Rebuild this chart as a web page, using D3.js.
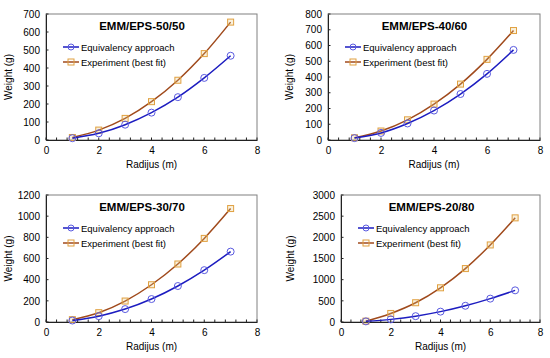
<!DOCTYPE html>
<html>
<head>
<meta charset="utf-8">
<script src="https://cdn.jsdelivr.net/npm/d3@7"></script>
<style>
  body { margin: 0; background: #fff; }
  text { font-family: "Liberation Sans", Arial, sans-serif; fill: #000; }
</style>
</head>
<body>
<script>
// Data
let radius = [1, 2, 3, 4, 5, 6, 7];
let titles = ['EMM/EPS-50/50', 'EMM/EPS-40/60', 'EMM/EPS-30/70', 'EMM/EPS-20/80'];
let equivalency = [
  [10, 37, 85, 152, 238, 345, 468],
  [12, 45, 105, 187, 292, 420, 572],
  [14, 55, 122, 217, 340, 490, 665],
  [15, 62, 138, 245, 383, 552, 748]
];
let experiment = [
  [14, 55, 120, 213, 332, 480, 655],
  [14, 57, 128, 228, 355, 512, 695],
  [22, 88, 198, 352, 548, 790, 1072],
  [20, 202, 455, 808, 1262, 1820, 2460]
];
let yMax = [700, 800, 1200, 3000];
let yStep = [100, 100, 200, 500];
let xTicks = [0, 2, 4, 6, 8];
let seriesNames = ['Equivalency approach', 'Experiment (best fit)'];

let width = 550, height = 358;

// panel boxes
let panels = [
  { left: 46, right: 257, top: 14, bottom: 140, yTitle: 34 },
  { left: 328, right: 540, top: 14, bottom: 140, yTitle: 35 },
  { left: 46, right: 257, top: 195, bottom: 322, yTitle: 34 },
  { left: 341, right: 540, top: 195, bottom: 322, yTitle: 47 }
];

let blueLine = '#1c1cc0', blueMark = '#5a5ae0';
let brownLine = '#a04a1c', orangeMark = '#e0a040';

let svg = d3.select('body')
  .append('svg')
  .attr('width', width)
  .attr('height', height);

panels.forEach((p, i) => {
  let g = svg.append('g');

  let x = d3.scaleLinear().domain([0, 8]).range([p.left, p.right]);
  let y = d3.scaleLinear().domain([0, yMax[i]]).range([p.bottom, p.top]);
  let yTicks = d3.range(0, yMax[i] + 1, yStep[i]);

  // frame (top/right)
  g.append('rect')
    .attr('x', p.left).attr('y', p.top)
    .attr('width', p.right - p.left).attr('height', p.bottom - p.top)
    .attr('fill', 'none').attr('stroke', '#808080').attr('stroke-width', 1);

  // x axis
  let xAxis = g.append('g')
    .attr('transform', `translate(0,${p.bottom})`)
    .call(d3.axisBottom(x).tickValues(xTicks).tickFormat(d3.format('d')).tickSize(0).tickPadding(7));
  xAxis.select('.domain').attr('stroke', '#222');
  xAxis.selectAll('text').style('font-size', '10px').style('font-family', '"Liberation Sans", Arial, sans-serif');

  // minor ticks pointing inward
  g.append('g').selectAll('line')
    .data(d3.range(0, 8.001, 0.4))
    .enter().append('line')
    .attr('x1', d => x(d)).attr('x2', d => x(d))
    .attr('y1', p.bottom).attr('y2', p.bottom - 2.5)
    .attr('stroke', '#222');

  // y axis
  let yAxis = g.append('g')
    .attr('transform', `translate(${p.left},0)`)
    .call(d3.axisLeft(y).tickValues(yTicks).tickFormat(d3.format('d')).tickSize(0).tickPadding(6));
  yAxis.select('.domain').attr('stroke', '#222');
  yAxis.selectAll('text').style('font-size', '10px').style('font-family', '"Liberation Sans", Arial, sans-serif');

  g.append('g').selectAll('line')
    .data(yTicks)
    .enter().append('line')
    .attr('x1', p.left).attr('x2', p.left + 2.5)
    .attr('y1', d => y(d)).attr('y2', d => y(d))
    .attr('stroke', '#222');

  // axis titles
  g.append('text')
    .attr('x', (p.left + p.right) / 2)
    .attr('y', p.bottom + 28)
    .attr('text-anchor', 'middle')
    .style('font-size', '10px')
    .text('Radijus (m)');

  g.append('text')
    .attr('transform', `translate(${p.left - p.yTitle},${(p.top + p.bottom) / 2}) rotate(-90)`)
    .attr('text-anchor', 'middle')
    .style('font-size', '10px')
    .text('Weight (g)');

  // chart title
  g.append('text')
    .attr('x', p.left + (p.right - p.left) * 0.455)
    .attr('y', p.top + 16)
    .attr('text-anchor', 'middle')
    .style('font-size', '11.5px')
    .style('font-weight', 'bold')
    .text(titles[i]);

  let line = d3.line()
    .x((d, k) => x(radius[k]))
    .y(d => y(d))
    .curve(d3.curveMonotoneX);

  // experiment
  g.append('path')
    .attr('d', line(experiment[i]))
    .attr('fill', 'none').attr('stroke', brownLine).attr('stroke-width', 1.5);
  g.selectAll('.sq')
    .data(experiment[i])
    .enter().append('rect')
    .attr('x', (d, k) => x(radius[k]) - 3)
    .attr('y', d => y(d) - 3)
    .attr('width', 6).attr('height', 6)
    .attr('fill', 'rgba(230,200,120,0.25)').attr('stroke', orangeMark).attr('stroke-width', 1);

  // equivalency
  g.append('path')
    .attr('d', line(equivalency[i]))
    .attr('fill', 'none').attr('stroke', blueLine).attr('stroke-width', 1.5);
  g.selectAll('.ci')
    .data(equivalency[i])
    .enter().append('circle')
    .attr('cx', (d, k) => x(radius[k]))
    .attr('cy', d => y(d))
    .attr('r', 3.5)
    .attr('fill', 'none').attr('stroke', blueMark).attr('stroke-width', 1);

  // legend
  let lx = p.left + 17;
  let ly = p.top + 33;
  seriesNames.forEach((name, k) => {
    let yy = ly + k * 15;
    g.append('line')
      .attr('x1', lx).attr('x2', lx + 16)
      .attr('y1', yy).attr('y2', yy)
      .attr('stroke', k === 0 ? blueLine : brownLine).attr('stroke-width', 1.5);
    if (k === 0) {
      g.append('circle').attr('cx', lx + 8).attr('cy', yy).attr('r', 3)
        .attr('fill', 'none').attr('stroke', blueMark);
    } else {
      g.append('rect').attr('x', lx + 5).attr('y', yy - 3).attr('width', 6).attr('height', 6)
        .attr('fill', 'none').attr('stroke', orangeMark);
    }
    g.append('text')
      .attr('x', lx + 18)
      .attr('y', yy + 3.5)
      .style('font-size', '9.5px')
      .text(name);
  });
});
</script>
</body>
</html>
